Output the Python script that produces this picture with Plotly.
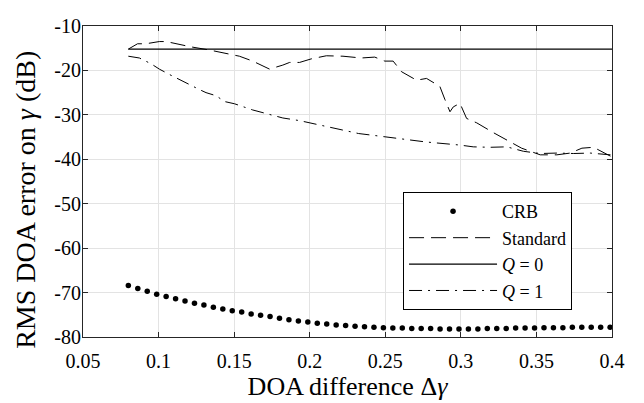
import plotly.graph_objects as go

# ---- data ----
crb_x = [0.08 + 0.00625 * k for k in range(52)]
crb_y = [-68.4, -69.1, -69.7, -70.4, -70.9, -71.4, -71.9, -72.4, -72.8, -73.3,
         -73.7, -74.1, -74.4, -74.8, -75.1, -75.4, -75.8, -76.1, -76.4, -76.6,
         -76.9, -77.1, -77.3, -77.4, -77.6, -77.7, -77.8, -77.9, -78.0, -78.0,
         -78.1, -78.1, -78.1, -78.2, -78.2, -78.2, -78.2, -78.2, -78.1, -78.1,
         -78.1, -78.0, -78.0, -78.0, -77.9, -77.9, -77.9, -77.8, -77.8, -77.8,
         -77.8, -77.8]

std_x = [0.08, 0.0861, 0.0916, 0.1005, 0.105, 0.1126, 0.1215, 0.1336, 0.1424,
         0.1535, 0.1623, 0.1734, 0.1822, 0.1867, 0.1933, 0.201, 0.211, 0.222,
         0.234, 0.243, 0.2497, 0.2552, 0.2608, 0.2707, 0.2773, 0.2861, 0.2894,
         0.2928, 0.295, 0.2994, 0.3038, 0.3105, 0.3215, 0.3293, 0.3402, 0.3525,
         0.3635, 0.3724, 0.3801, 0.3878, 0.399]
std_y = [-15.2, -14.0, -14.0, -13.5, -13.5, -14.1, -14.7, -15.4, -16.0,
         -16.8, -17.9, -19.7, -18.8, -18.2, -18.2, -17.4, -16.7, -16.8,
         -17.2, -17.0, -17.9, -17.9, -20.3, -22.2, -21.8, -23.6, -26.5,
         -29.3, -28.2, -27.4, -30.8, -31.8, -34.0, -35.4, -37.5, -39.0,
         -39.0, -38.6, -37.5, -37.3, -39.3]

q0_x = [0.08, 0.4]
q0_y = [-15.2, -15.2]

q1_x = [0.08, 0.0873, 0.095, 0.1005, 0.1071, 0.1182, 0.127, 0.1314, 0.1381,
        0.1436, 0.1502, 0.1623, 0.1712, 0.1822, 0.1933, 0.1999, 0.2103,
        0.2213, 0.2323, 0.2489, 0.261, 0.2768, 0.2994, 0.3082, 0.3193,
        0.3304, 0.3414, 0.3525, 0.3635, 0.3746, 0.3856, 0.399]
q1_y = [-16.8, -17.2, -18.5, -19.7, -20.9, -22.9, -24.3, -25.0, -25.7,
        -27.0, -27.5, -28.9, -29.7, -30.7, -31.3, -31.8, -32.5, -33.4,
        -34.2, -34.9, -35.4, -36.1, -36.8, -37.2, -37.3, -37.2, -38.2,
        -38.7, -38.6, -38.7, -38.6, -39.0]

x_tickvals = [0.05, 0.1, 0.15, 0.2, 0.25, 0.3, 0.35, 0.4]
x_ticktext = ["0.05", "0.1", "0.15", "0.2", "0.25", "0.3", "0.35", "0.4"]
y_tickvals = [-10, -20, -30, -40, -50, -60, -70, -80]
y_ticktext = ["-10", "-20", "-30", "-40", "-50", "-60", "-70", "-80"]

FONT = "Liberation Serif, Times New Roman, Times, DejaVu Serif, serif"
AX = "#262626"

fig = go.Figure()
fig.add_trace(go.Scatter(x=crb_x, y=crb_y, mode="markers", name="CRB",
                         marker=dict(size=5.5, color="black"), cliponaxis=False))
fig.add_trace(go.Scatter(x=std_x, y=std_y, mode="lines", name="Standard",
                         line=dict(color="black", width=1, dash="15px,7px")))
fig.add_trace(go.Scatter(x=q0_x, y=q0_y, mode="lines", name="<i>Q</i> = 0",
                         line=dict(color="black", width=1.2)))
fig.add_trace(go.Scatter(x=q1_x, y=q1_y, mode="lines", name="<i>Q</i> = 1",
                         line=dict(color="black", width=1, dash="13px,6px,2px,6px")))

fig.update_layout(
    width=644, height=403,
    margin=dict(l=75, r=40, t=7, b=74),
    paper_bgcolor="white", plot_bgcolor="white",
    font=dict(family=FONT, size=20, color="black"),
    showlegend=True,
    legend=dict(x=0.605, y=0.466, xanchor="left", yanchor="top",
                bgcolor="white", bordercolor="black", borderwidth=1,
                font=dict(family=FONT, size=18), tracegroupgap=0,
                itemwidth=88),
    annotations=[dict(text="RMS DOA error on <i>γ</i> (dB)", textangle=-90,
                      xref="paper", yref="paper", x=-0.1078, y=0.441,
                      xanchor="center", yanchor="middle", showarrow=False,
                      font=dict(family=FONT, size=28))],
)
fig.update_xaxes(
    range=[0.05, 0.4], tickvals=x_tickvals, ticktext=x_ticktext,
    showgrid=True, gridcolor="#e3e3e3", gridwidth=1,
    showline=True, linecolor=AX, linewidth=1, mirror="ticks",
    ticks="inside", ticklen=5, tickcolor=AX, zeroline=False,
    tickfont=dict(family=FONT, size=20), ticklabelstandoff=6,
    title=dict(text="DOA difference Δ<i>γ</i>", font=dict(family=FONT, size=26),
               standoff=2),
)
fig.update_yaxes(
    range=[-80, -10], tickvals=y_tickvals, ticktext=y_ticktext,
    showgrid=True, gridcolor="#e3e3e3", gridwidth=1,
    showline=True, linecolor=AX, linewidth=1, mirror="ticks",
    ticks="inside", ticklen=5, tickcolor=AX, zeroline=False,
    tickfont=dict(family=FONT, size=20), ticklabelstandoff=-3,
    ticklabeloverflow="allow",
)

fig.write_html("out.html")
